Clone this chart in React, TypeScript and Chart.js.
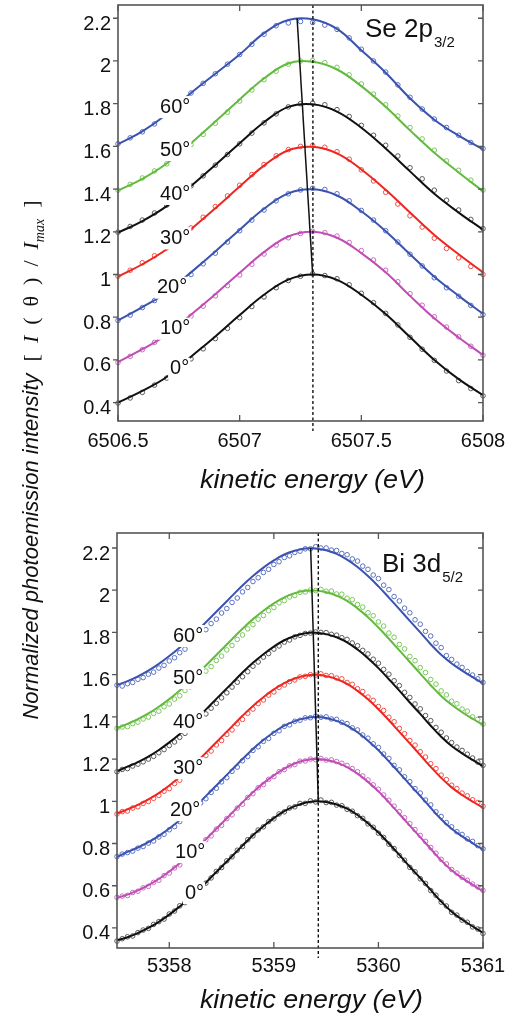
import React, { useEffect, useRef } from "react";
import { Chart, registerables } from "chart.js";

Chart.register(...registerables);

// ---------------- shared ----------------
const ANGLE_LABELS = ["0°", "10°", "20°", "30°", "40°", "50°", "60°"];
const Y_TICKS = [0.4, 0.6, 0.8, 1, 1.2, 1.4, 1.6, 1.8, 2, 2.2];
const PEAK_TRACE_Y = [2.2, 1.0];

// ---------------- Se 2p3/2 panel ----------------
const SE_X_TICKS = [6506.5, 6507, 6507.5, 6508];
const SE_REF_ENERGY = 6507.301;
const SE_PEAK_TRACE_X = [6507.236, 6507.3];
const SE_FIT_ENERGY = [6506.5, 6506.6, 6506.7, 6506.8, 6506.9, 6507.0, 6507.1, 6507.2, 6507.3, 6507.4, 6507.5, 6507.6, 6507.7, 6507.8, 6507.9, 6508.0];
const SE_FIT_0 = [0.40, 0.455, 0.52, 0.615, 0.71, 0.81, 0.905, 0.976, 1.0, 0.975, 0.905, 0.815, 0.707, 0.60, 0.51, 0.435];
const SE_FIT_10 = [0.59, 0.65, 0.718, 0.812, 0.908, 1.008, 1.105, 1.178, 1.2, 1.172, 1.10, 1.01, 0.90, 0.795, 0.705, 0.623];
const SE_FIT_20 = [0.785, 0.847, 0.916, 1.01, 1.108, 1.21, 1.308, 1.38, 1.399, 1.37, 1.296, 1.203, 1.095, 0.99, 0.90, 0.816];
const SE_FIT_30 = [0.99, 1.048, 1.118, 1.212, 1.31, 1.412, 1.51, 1.582, 1.598, 1.567, 1.492, 1.397, 1.29, 1.185, 1.095, 1.01];
const SE_FIT_40 = [1.196, 1.25, 1.32, 1.414, 1.513, 1.615, 1.713, 1.785, 1.797, 1.763, 1.687, 1.59, 1.483, 1.378, 1.29, 1.21];
const SE_FIT_50 = [1.393, 1.448, 1.52, 1.615, 1.716, 1.82, 1.918, 1.988, 1.996, 1.96, 1.882, 1.785, 1.675, 1.57, 1.478, 1.39];
const SE_FIT_60 = [1.61, 1.67, 1.75, 1.85, 1.94, 2.03, 2.13, 2.192, 2.195, 2.15, 2.05, 1.945, 1.825, 1.725, 1.65, 1.586];

const SE_DATA_ENERGY = [6506.5, 6506.55, 6506.6, 6506.65, 6506.7, 6506.75, 6506.8, 6506.85, 6506.9, 6506.95, 6507.0, 6507.05, 6507.1, 6507.15, 6507.2, 6507.25, 6507.3, 6507.35, 6507.4, 6507.45, 6507.5, 6507.55, 6507.6, 6507.65, 6507.7, 6507.75, 6507.8, 6507.85, 6507.9, 6507.95, 6508.0];
const SE_DATA_0 = [0.398, 0.422, 0.448, 0.482, 0.515, 0.558, 0.605, 0.652, 0.70, 0.748, 0.798, 0.85, 0.895, 0.938, 0.972, 0.992, 1.003, 0.995, 0.98, 0.952, 0.912, 0.868, 0.818, 0.764, 0.706, 0.65, 0.598, 0.548, 0.503, 0.466, 0.432];
const SE_DATA_10 = [0.588, 0.617, 0.648, 0.682, 0.714, 0.758, 0.805, 0.852, 0.90, 0.948, 0.998, 1.048, 1.096, 1.138, 1.172, 1.192, 1.202, 1.196, 1.18, 1.15, 1.112, 1.068, 1.02, 0.966, 0.91, 0.856, 0.802, 0.754, 0.708, 0.664, 0.622];
const SE_DATA_20 = [0.785, 0.81, 0.845, 0.878, 0.912, 0.955, 1.0, 1.05, 1.10, 1.152, 1.205, 1.255, 1.302, 1.345, 1.378, 1.396, 1.404, 1.398, 1.378, 1.345, 1.30, 1.255, 1.205, 1.152, 1.095, 1.04, 0.985, 0.938, 0.898, 0.855, 0.812];
const SE_DATA_30 = [0.992, 1.02, 1.055, 1.088, 1.125, 1.17, 1.218, 1.268, 1.318, 1.368, 1.418, 1.468, 1.515, 1.556, 1.585, 1.6, 1.604, 1.596, 1.575, 1.54, 1.49, 1.438, 1.385, 1.33, 1.275, 1.222, 1.17, 1.122, 1.078, 1.038, 1.0];
const SE_DATA_40 = [1.198, 1.225, 1.255, 1.288, 1.325, 1.368, 1.415, 1.462, 1.512, 1.562, 1.612, 1.662, 1.71, 1.752, 1.785, 1.8, 1.802, 1.795, 1.772, 1.74, 1.698, 1.652, 1.605, 1.555, 1.5, 1.448, 1.395, 1.348, 1.302, 1.258, 1.215];
const SE_DATA_50 = [1.395, 1.422, 1.452, 1.485, 1.518, 1.56, 1.608, 1.656, 1.708, 1.76, 1.812, 1.864, 1.912, 1.952, 1.985, 2.0, 2.002, 1.992, 1.97, 1.935, 1.892, 1.845, 1.795, 1.742, 1.688, 1.635, 1.582, 1.532, 1.488, 1.442, 1.395];
const SE_DATA_60 = [1.612, 1.64, 1.668, 1.705, 1.748, 1.798, 1.85, 1.895, 1.94, 1.985, 2.03, 2.078, 2.125, 2.165, 2.178, 2.185, 2.18, 2.168, 2.148, 2.108, 2.055, 2.0, 1.948, 1.888, 1.83, 1.775, 1.728, 1.688, 1.652, 1.618, 1.59];

// ---------------- Bi 3d5/2 panel ----------------
const BI_X_TICKS = [5358, 5359, 5360, 5361];
const BI_REF_ENERGY = 5359.425;
const BI_PEAK_TRACE_X = [5359.352, 5359.425];
const BI_FIT_ENERGY = [5357.5, 5357.6, 5357.7, 5357.8, 5357.9, 5358.0, 5358.1, 5358.2, 5358.3, 5358.4, 5358.5, 5358.6, 5358.7, 5358.8, 5358.9, 5359.0, 5359.1, 5359.2, 5359.3, 5359.4, 5359.5, 5359.6, 5359.7, 5359.8, 5359.9, 5360.0, 5360.1, 5360.2, 5360.3, 5360.4, 5360.5, 5360.6, 5360.7, 5360.8, 5360.9, 5361.0];
const BI_FIT_0 = [0.342, 0.356, 0.376, 0.40, 0.429, 0.463, 0.502, 0.544, 0.59, 0.64, 0.69, 0.74, 0.79, 0.839, 0.882, 0.92, 0.953, 0.977, 0.993, 1.0, 0.997, 0.985, 0.965, 0.935, 0.896, 0.852, 0.80, 0.746, 0.69, 0.636, 0.58, 0.525, 0.477, 0.44, 0.408, 0.377];
const BI_FIT_10 = [0.543, 0.558, 0.578, 0.603, 0.632, 0.667, 0.706, 0.749, 0.795, 0.845, 0.895, 0.945, 0.995, 1.043, 1.086, 1.123, 1.155, 1.179, 1.194, 1.2, 1.196, 1.183, 1.162, 1.131, 1.092, 1.047, 0.995, 0.94, 0.885, 0.83, 0.775, 0.72, 0.673, 0.637, 0.605, 0.574];
const BI_FIT_20 = [0.736, 0.76, 0.781, 0.806, 0.836, 0.871, 0.91, 0.953, 1.0, 1.05, 1.10, 1.15, 1.20, 1.248, 1.29, 1.327, 1.358, 1.38, 1.394, 1.399, 1.395, 1.381, 1.359, 1.327, 1.287, 1.242, 1.189, 1.135, 1.079, 1.025, 0.969, 0.915, 0.87, 0.834, 0.802, 0.771];
const BI_FIT_30 = [0.942, 0.962, 0.983, 1.009, 1.039, 1.075, 1.115, 1.158, 1.205, 1.255, 1.305, 1.355, 1.405, 1.452, 1.493, 1.53, 1.56, 1.582, 1.595, 1.599, 1.593, 1.579, 1.556, 1.523, 1.483, 1.436, 1.384, 1.329, 1.274, 1.219, 1.163, 1.111, 1.066, 1.03, 0.999, 0.969];
const BI_FIT_40 = [1.142, 1.164, 1.186, 1.212, 1.243, 1.279, 1.319, 1.362, 1.41, 1.46, 1.51, 1.56, 1.61, 1.656, 1.697, 1.733, 1.763, 1.783, 1.796, 1.799, 1.792, 1.777, 1.753, 1.719, 1.678, 1.631, 1.578, 1.524, 1.468, 1.414, 1.358, 1.306, 1.262, 1.227, 1.196, 1.166];
const BI_FIT_50 = [1.346, 1.367, 1.389, 1.416, 1.448, 1.484, 1.525, 1.569, 1.618, 1.668, 1.718, 1.768, 1.817, 1.863, 1.903, 1.938, 1.966, 1.986, 1.997, 1.998, 1.99, 1.974, 1.949, 1.914, 1.872, 1.823, 1.77, 1.715, 1.66, 1.605, 1.55, 1.499, 1.457, 1.422, 1.391, 1.362];
const BI_FIT_60 = [1.551, 1.569, 1.592, 1.619, 1.651, 1.688, 1.729, 1.774, 1.823, 1.873, 1.923, 1.973, 2.022, 2.067, 2.107, 2.141, 2.169, 2.187, 2.198, 2.198, 2.189, 2.172, 2.145, 2.11, 2.067, 2.018, 1.965, 1.91, 1.855, 1.80, 1.744, 1.694, 1.653, 1.619, 1.588, 1.559];

const BI_DATA_ENERGY = [
  5357.5, 5357.55, 5357.6, 5357.65, 5357.7, 5357.75, 5357.8, 5357.85, 5357.9, 5357.95,
  5358.0, 5358.05, 5358.1, 5358.15, 5358.2, 5358.25, 5358.3, 5358.35, 5358.4, 5358.45,
  5358.5, 5358.55, 5358.6, 5358.65, 5358.7, 5358.75, 5358.8, 5358.85, 5358.9, 5358.95,
  5359.0, 5359.05, 5359.1, 5359.15, 5359.2, 5359.25, 5359.3, 5359.35, 5359.4, 5359.45,
  5359.5, 5359.55, 5359.6, 5359.65, 5359.7, 5359.75, 5359.8, 5359.85, 5359.9, 5359.95,
  5360.0, 5360.05, 5360.1, 5360.15, 5360.2, 5360.25, 5360.3, 5360.35, 5360.4, 5360.45,
  5360.5, 5360.55, 5360.6, 5360.65, 5360.7, 5360.75, 5360.8, 5360.85, 5360.9, 5360.95,
  5361.0,
];
const BI_DATA_0 = [
  0.338, 0.349, 0.358, 0.362, 0.378, 0.39, 0.398, 0.417, 0.43, 0.442,
  0.466, 0.48, 0.505, 0.52, 0.548, 0.563, 0.593, 0.612, 0.637, 0.668,
  0.686, 0.718, 0.737, 0.768, 0.786, 0.818, 0.836, 0.864, 0.879, 0.904,
  0.917, 0.94, 0.95, 0.968, 0.974, 0.99, 0.99, 1.002, 0.997, 1.006,
  0.994, 0.995, 0.982, 0.979, 0.962, 0.953, 0.932, 0.919, 0.893, 0.877,
  0.849, 0.829, 0.797, 0.776, 0.743, 0.721, 0.687, 0.666, 0.633, 0.611,
  0.577, 0.555, 0.522, 0.504, 0.474, 0.461, 0.437, 0.427, 0.405, 0.395,
  0.374,
];
const BI_DATA_10 = [
  0.545, 0.551, 0.554, 0.568, 0.574, 0.59, 0.597, 0.616, 0.626, 0.648,
  0.66, 0.684, 0.699, 0.725, 0.741, 0.769, 0.786, 0.818, 0.836, 0.868,
  0.886, 0.918, 0.936, 0.968, 0.986, 1.018, 1.036, 1.064, 1.079, 1.104,
  1.117, 1.14, 1.15, 1.168, 1.174, 1.19, 1.191, 1.2, 1.197, 1.203,
  1.195, 1.196, 1.188, 1.18, 1.17, 1.155, 1.14, 1.12, 1.101, 1.078,
  1.057, 1.03, 1.005, 0.977, 0.951, 0.922, 0.894, 0.866, 0.838, 0.81,
  0.781, 0.754, 0.725, 0.703, 0.677, 0.66, 0.64, 0.626, 0.608, 0.594,
  0.578,
];
const BI_DATA_20 = [
  0.738, 0.75, 0.757, 0.764, 0.778, 0.786, 0.802, 0.812, 0.831, 0.844,
  0.865, 0.88, 0.904, 0.921, 0.946, 0.964, 0.992, 1.012, 1.042, 1.062,
  1.092, 1.112, 1.142, 1.162, 1.192, 1.212, 1.241, 1.258, 1.284, 1.298,
  1.322, 1.334, 1.355, 1.362, 1.379, 1.384, 1.395, 1.396, 1.403, 1.398,
  1.4, 1.39, 1.388, 1.374, 1.368, 1.348, 1.338, 1.314, 1.299, 1.272,
  1.255, 1.224, 1.203, 1.17, 1.149, 1.116, 1.093, 1.06, 1.039, 1.006,
  0.983, 0.95, 0.928, 0.899, 0.879, 0.856, 0.843, 0.822, 0.81, 0.79,
  0.775,
];
const BI_DATA_30 = [
  0.94, 0.951, 0.954, 0.968, 0.974, 0.99, 0.999, 1.014, 1.028, 1.048,
  1.06, 1.084, 1.1, 1.125, 1.142, 1.169, 1.188, 1.217, 1.238, 1.267,
  1.288, 1.317, 1.338, 1.367, 1.388, 1.417, 1.437, 1.463, 1.48, 1.503,
  1.518, 1.539, 1.551, 1.567, 1.575, 1.589, 1.592, 1.6, 1.598, 1.604,
  1.596, 1.595, 1.584, 1.58, 1.563, 1.554, 1.533, 1.52, 1.494, 1.478,
  1.449, 1.43, 1.398, 1.377, 1.345, 1.32, 1.288, 1.266, 1.235, 1.21,
  1.178, 1.155, 1.124, 1.103, 1.076, 1.06, 1.039, 1.026, 1.007, 0.994,
  0.976,
];
const BI_DATA_40 = [
  1.14, 1.151, 1.155, 1.167, 1.176, 1.187, 1.2, 1.213, 1.23, 1.245,
  1.264, 1.281, 1.303, 1.322, 1.345, 1.366, 1.391, 1.414, 1.441, 1.464,
  1.49, 1.514, 1.541, 1.564, 1.59, 1.614, 1.64, 1.66, 1.683, 1.7,
  1.721, 1.736, 1.754, 1.764, 1.779, 1.786, 1.795, 1.797, 1.802, 1.8,
  1.799, 1.791, 1.787, 1.775, 1.767, 1.75, 1.737, 1.715, 1.698, 1.673,
  1.654, 1.625, 1.602, 1.571, 1.548, 1.516, 1.492, 1.461, 1.438, 1.406,
  1.382, 1.35, 1.327, 1.3, 1.278, 1.257, 1.241, 1.223, 1.205, 1.186,
  1.17,
];
const BI_DATA_50 = [
  1.346, 1.352, 1.354, 1.368, 1.375, 1.39, 1.399, 1.416, 1.427, 1.448,
  1.461, 1.484, 1.5, 1.525, 1.542, 1.57, 1.588, 1.617, 1.638, 1.667,
  1.688, 1.717, 1.738, 1.767, 1.788, 1.817, 1.837, 1.863, 1.88, 1.903,
  1.918, 1.94, 1.951, 1.968, 1.975, 1.99, 1.992, 2.001, 1.998, 2.004,
  1.995, 1.996, 1.982, 1.981, 1.962, 1.955, 1.932, 1.92, 1.893, 1.879,
  1.85, 1.83, 1.797, 1.777, 1.743, 1.722, 1.686, 1.666, 1.633, 1.61,
  1.577, 1.555, 1.523, 1.504, 1.474, 1.462, 1.437, 1.427, 1.40, 1.388,
  1.366,
];
const BI_DATA_60 = [
  1.55, 1.546, 1.557, 1.563, 1.578, 1.586, 1.602, 1.612, 1.631, 1.644,
  1.665, 1.68, 1.704, 1.721, 1.746, 1.765, 1.792, 1.813, 1.842, 1.863,
  1.892, 1.913, 1.942, 1.963, 1.992, 2.013, 2.041, 2.059, 2.084, 2.099,
  2.122, 2.135, 2.155, 2.163, 2.179, 2.185, 2.196, 2.196, 2.206, 2.2,
  2.2, 2.19, 2.188, 2.174, 2.168, 2.148, 2.138, 2.114, 2.099, 2.072,
  2.055, 2.024, 2.003, 1.97, 1.949, 1.915, 1.893, 1.86, 1.839, 1.805,
  1.783, 1.749, 1.728, 1.69, 1.672, 1.65, 1.634, 1.615, 1.598, 1.58,
  1.563,
];

// ---------------- styles ----------------
const LINE_COLORS = ["#111111", "#c04cb4", "#3a52b0", "#ee2620", "#111111", "#62ba3e", "#3a52b0"];
const DOT_COLORS = ["#5a5a5a", "#c86cc0", "#5c70c4", "#f25048", "#5a5a5a", "#7cc85c", "#5c70c4"];
const SANS = '"Liberation Sans", Arial, Helvetica, sans-serif';

const SE_PANEL = {
  top: 0,
  height: 510,
  area: { left: 118, top: 5, right: 483, bottom: 421 },
  xMin: 6506.5, xMax: 6508, yMin: 0.314, yMax: 2.262,
  xTicks: SE_X_TICKS, xTickPad: 8,
  fitX: SE_FIT_ENERGY,
  fits: [SE_FIT_0, SE_FIT_10, SE_FIT_20, SE_FIT_30, SE_FIT_40, SE_FIT_50, SE_FIT_60],
  dataX: SE_DATA_ENERGY,
  data: [SE_DATA_0, SE_DATA_10, SE_DATA_20, SE_DATA_30, SE_DATA_40, SE_DATA_50, SE_DATA_60],
  peakX: SE_PEAK_TRACE_X, refEnergy: SE_REF_ENERGY,
  labelAt: [[6506.714, 0.559], [6506.673, 0.746], [6506.66, 0.938], [6506.673, 1.169], [6506.673, 1.377], [6506.673, 1.583], [6506.673, 1.784]],
  title: { main: "Se 2p", sub: "3/2", x: 365, y: 37 },
  xTitle: { x: 200, y: 488, w: 225 },
};

const BI_PANEL = {
  top: 510,
  height: 511,
  area: { left: 117, top: 23, right: 483, bottom: 438 },
  xMin: 5357.5, xMax: 5361, yMin: 0.305, yMax: 2.271,
  xTicks: BI_X_TICKS, xTickPad: 6,
  fitX: BI_FIT_ENERGY,
  fits: [BI_FIT_0, BI_FIT_10, BI_FIT_20, BI_FIT_30, BI_FIT_40, BI_FIT_50, BI_FIT_60],
  dataX: BI_DATA_ENERGY,
  data: [BI_DATA_0, BI_DATA_10, BI_DATA_20, BI_DATA_30, BI_DATA_40, BI_DATA_50, BI_DATA_60],
  peakX: BI_PEAK_TRACE_X, refEnergy: BI_REF_ENERGY,
  labelAt: [[5358.15, 0.565], [5358.055, 0.759], [5358.007, 0.958], [5358.035, 1.157], [5358.035, 1.375], [5358.035, 1.584], [5358.035, 1.783]],
  title: { main: "Bi 3d", sub: "5/2", x: 382, y: 62 },
  xTitle: { x: 200, y: 498, w: 223 },
};

const pts = (xs: number[], ys: number[]) => xs.map((x, i) => ({ x, y: ys[i] }));

function makeDecor(p: any) {
  return {
    id: "decor",
    afterDatasetsDraw(chart: any) {
      const { ctx, chartArea: a } = chart;
      const xs = chart.scales.x;
      const ys = chart.scales.y;
      ctx.save();
      // angle labels with white backing
      ctx.font = `20px ${SANS}`;
      ctx.textBaseline = "middle";
      ctx.textAlign = "left";
      p.labelAt.forEach((pos: number[], i: number) => {
        const px = xs.getPixelForValue(pos[0]);
        const py = ys.getPixelForValue(pos[1]);
        const w = ctx.measureText(ANGLE_LABELS[i]).width;
        ctx.fillStyle = "#ffffff";
        ctx.fillRect(px - 2, py - 11, w + 3, 22);
        ctx.fillStyle = "#111111";
        ctx.fillText(ANGLE_LABELS[i], px, py);
      });
      // dashed reference line
      const dx = xs.getPixelForValue(p.refEnergy);
      ctx.strokeStyle = "#111111";
      ctx.lineWidth = 1.4;
      ctx.setLineDash([3, 2.5]);
      ctx.beginPath();
      ctx.moveTo(dx, a.top);
      ctx.lineTo(dx, a.bottom + 10);
      ctx.stroke();
      ctx.setLineDash([]);
      // frame
      ctx.strokeStyle = "#555555";
      ctx.lineWidth = 1.6;
      ctx.strokeRect(a.left, a.top, a.right - a.left, a.bottom - a.top);
      // ticks
      ctx.lineWidth = 1.3;
      ctx.beginPath();
      xs.ticks.forEach((t: any) => {
        const px = xs.getPixelForValue(t.value);
        ctx.moveTo(px, a.bottom);
        ctx.lineTo(px, a.bottom - 6);
        ctx.moveTo(px, a.top);
        ctx.lineTo(px, a.top + 6);
      });
      ys.ticks.forEach((t: any) => {
        const py = ys.getPixelForValue(t.value);
        ctx.moveTo(a.left - 5, py);
        ctx.lineTo(a.left, py);
        ctx.moveTo(a.right, py);
        ctx.lineTo(a.right - 5, py);
      });
      ctx.stroke();
      ctx.restore();
    },
    afterDraw(chart: any) {
      const { ctx } = chart;
      ctx.save();
      ctx.fillStyle = "#111111";
      ctx.textAlign = "left";
      ctx.textBaseline = "alphabetic";
      ctx.font = `26px ${SANS}`;
      ctx.fillText(p.title.main, p.title.x, p.title.y);
      const w = ctx.measureText(p.title.main).width;
      ctx.font = `15px ${SANS}`;
      ctx.fillText(p.title.sub, p.title.x + w + 1, p.title.y + 10);
      // x-axis title
      const t = "kinetic energy (eV)";
      ctx.font = `italic 25px ${SANS}`;
      const tw = ctx.measureText(t).width;
      ctx.translate(p.xTitle.x, p.xTitle.y);
      ctx.scale(p.xTitle.w / tw, 1);
      ctx.fillText(t, 0, 0);
      ctx.restore();
    },
  };
}

function Panel({ p }: { p: any }) {
  const ref = useRef<HTMLCanvasElement | null>(null);
  useEffect(() => {
    if (!ref.current) return;
    const datasets: any[] = [];
    p.fits.forEach((ys: number[], k: number) => {
      datasets.push({
        label: `${ANGLE_LABELS[k]} fit`,
        data: pts(p.fitX, ys),
        borderColor: LINE_COLORS[k],
        borderWidth: 2,
        pointRadius: 0,
        tension: 0.4,
        fill: false,
        order: 1,
      });
    });
    p.data.forEach((ys: number[], k: number) => {
      datasets.push({
        label: `${ANGLE_LABELS[k]} data`,
        data: pts(p.dataX, ys),
        showLine: false,
        pointRadius: 2.3,
        pointBorderWidth: 1,
        pointBorderColor: DOT_COLORS[k],
        pointBackgroundColor: "rgba(0,0,0,0)",
        borderColor: DOT_COLORS[k],
        order: 2,
        clip: 6,
      });
    });
    datasets.push({
      label: "peak trace",
      data: pts(p.peakX, PEAK_TRACE_Y),
      borderColor: "#111111",
      borderWidth: 1.5,
      pointRadius: 0,
      tension: 0,
      order: 0,
    });

    const tickFont = { family: SANS, size: 20 };
    const chart = new Chart(ref.current, {
      type: "line",
      data: { datasets },
      options: {
        animation: false,
        responsive: false,
        maintainAspectRatio: false,
        events: [],
        layout: {
          autoPadding: false,
          padding: { left: 0, top: p.area.top, right: 517 - p.area.right, bottom: 0 },
        },
        plugins: { legend: { display: false }, tooltip: { enabled: false }, title: { display: false } },
        scales: {
          x: {
            type: "linear",
            min: p.xMin,
            max: p.xMax,
            grid: { display: false, drawTicks: false },
            border: { display: false },
            afterBuildTicks: (s: any) => {
              s.ticks = p.xTicks.map((v: number) => ({ value: v }));
            },
            afterFit: (s: any) => {
              s.height = p.height - p.area.bottom;
              s.paddingLeft = 0;
              s.paddingRight = 0;
            },
            ticks: {
              autoSkip: false,
              maxRotation: 0,
              minRotation: 0,
              padding: p.xTickPad,
              color: "#111111",
              font: tickFont,
              callback: (v: any) => String(v),
            },
          },
          y: {
            type: "linear",
            min: p.yMin,
            max: p.yMax,
            grid: { display: false, drawTicks: false },
            border: { display: false },
            afterBuildTicks: (s: any) => {
              s.ticks = Y_TICKS.map((v) => ({ value: v }));
            },
            afterFit: (s: any) => {
              s.width = p.area.left;
              s.paddingTop = 0;
              s.paddingBottom = 0;
            },
            ticks: {
              autoSkip: false,
              padding: 7,
              labelOffset: 6,
              color: "#111111",
              font: tickFont,
              callback: (v: any) => String(v),
            },
          },
        },
      },
      plugins: [makeDecor(p)],
    } as any);
    return () => chart.destroy();
  }, [p]);
  return (
    <canvas
      ref={ref}
      width={517}
      height={p.height}
      style={{ position: "absolute", left: 0, top: p.top, width: 517, height: p.height, display: "block" }}
    />
  );
}

export default function App() {
  return (
    <div style={{ position: "absolute", left: 0, top: 0, width: 517, height: 1021, background: "#ffffff", overflow: "hidden" }}>
      <Panel p={SE_PANEL} />
      <Panel p={BI_PANEL} />
      <div
        style={{
          position: "absolute",
          left: 31 - 270,
          top: 459.5 - 16,
          width: 540,
          height: 32,
          transform: "rotate(-90deg)",
          display: "flex",
          alignItems: "center",
          justifyContent: "center",
          whiteSpace: "nowrap",
          color: "#111111",
          lineHeight: "32px",
        }}
      >
        <span style={{ font: `italic 22px ${SANS}` }}>Normalized photoemission intensity</span>
        <span style={{ font: '22px "Liberation Serif", "Times New Roman", serif', marginLeft: 12 }}>
          [{"\u2002"}<i>I</i>{"\u2002"}({"\u2002"}θ{"\u2002"}){"\u2002"}/{"\u2002"}<i>I</i>
          <i style={{ fontSize: 14, position: "relative", top: 6 }}>max</i>{"\u2002"}]
        </span>
      </div>
    </div>
  );
}
